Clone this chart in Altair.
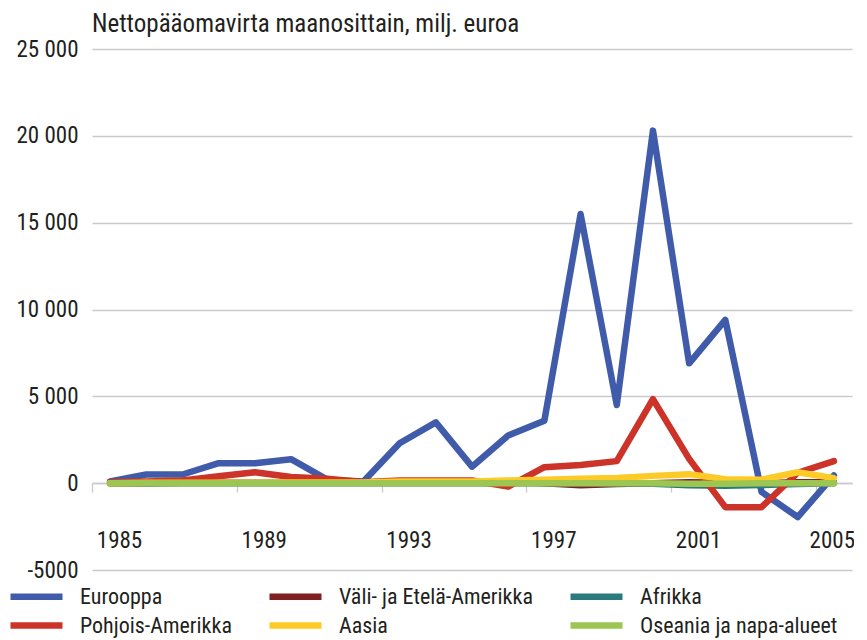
import altair as alt
import pandas as pd

years = list(range(1985, 2006))

eurooppa = [100, 500, 500, 1150, 1150, 1380, 200, 100, 2300, 3500, 950, 2750, 3600,
            15500, 4500, 20300, 6900, 9400, -500, -1950, 450]
pohjois = [50, 100, 150, 400, 630, 350, 250, 50, 150, 150, 150, -200, 920,
           1050, 1270, 4840, 1400, -1380, -1380, 600, 1270]
vali = [0, 0, 20, 20, 30, 30, 30, 20, 30, 30, 30, 80, 0,
        -120, -50, 0, 50, 30, 0, 50, 50]
aasia = [0, 20, 20, 30, 30, 40, 40, 40, 100, 100, 100, 150, 200,
         250, 300, 420, 520, 230, 200, 630, 290]
afrikka = [0, 0, 0, 0, 0, 0, 0, 0, 0, 0, 0, 0, 0,
           0, 0, -30, -120, -150, -100, -50, 0]
oseania = [0, 0, 0, 0, 0, 0, 0, 0, 0, 0, 0, 0, 0,
           0, 0, 0, -30, -30, 0, 0, 0]

series = {
    "Eurooppa": eurooppa,
    "Väli- ja Etelä-Amerikka": vali,
    "Afrikka": afrikka,
    "Pohjois-Amerikka": pohjois,
    "Aasia": aasia,
    "Oseania ja napa-alueet": oseania,
}
colors = ["#3F5BA9", "#7E1F22", "#2B7B7E", "#CC3329", "#FDCB27", "#9DC551"]

rows = []
for name, vals in series.items():
    for y, v in zip(years, vals):
        rows.append({"vuosi": y, "sarja": name, "arvo": v})
df = pd.DataFrame(rows)

FONT = "Roboto Condensed, Roboto, sans-serif"
FS = 23
TXT = "#231F20"
GRID = "#C9C9CE"

label_years = [1985, 1989, 1993, 1997, 2001, 2005]

chart = alt.Chart(df).mark_line(strokeWidth=6.5, strokeCap="round", strokeJoin="round").encode(
    x=alt.X("vuosi:O", title=None,
            scale=alt.Scale(paddingInner=0, paddingOuter=0),
            axis=alt.Axis(values=label_years, tickOffset=-18.1, offset=-87,
                          domainColor=GRID, domainWidth=1.3,
                          tickColor=GRID, tickSize=9, tickWidth=1.3,
                          labelAngle=0, labelFont=FONT, labelFontSize=FS, labelColor=TXT,
                          labelPadding=37,
                          labelOffset={"condition": {"test": "datum.value == 2005", "value": 16}, "value": 27},
                          grid=False)),
    y=alt.Y("arvo:Q", title=None,
            scale=alt.Scale(domain=[-5000, 25000], nice=False, zero=False),
            axis=alt.Axis(values=[-5000, 0, 5000, 10000, 15000, 20000, 25000],
                          labelExpr="datum.value == -5000 ? '-5000' : replace(format(datum.value, ','), /,/g, ' ')",
                          domain=False, ticks=False, grid=True, gridColor=GRID, gridWidth=1.3,
                          labelFont=FONT, labelFontSize=FS, labelColor=TXT, labelPadding=14)),
    color=alt.Color("sarja:N", sort=list(series.keys()),
                    scale=alt.Scale(domain=list(series.keys()), range=colors),
                    legend=alt.Legend(title=None, orient="none", legendX=-69, legendY=534,
                                      columns=3, direction="horizontal",
                                      symbolType="M-2.6,0H2.6", symbolSize=400, symbolStrokeWidth=6.5,
                                      labelFont=FONT, labelFontSize=22, labelColor=TXT, labelLimit=400,
                                      labelOffset=30, columnPadding=24, rowPadding=2,
                                      symbolOffset=0)),
).properties(
    width=760, height=521,
    title=alt.TitleParams("Nettopääomavirta maanosittain, milj. euroa", anchor="start", frame="group",
                          font=FONT, fontSize=25, fontWeight="normal", color=TXT, offset=1),
    autosize=alt.AutoSizeParams(type="none"),
    padding={"left": 84, "top": 41, "right": 2, "bottom": 68},
).configure_view(stroke=None)

chart.save("out.html", embed_options={"renderer": "svg", "actions": False})
